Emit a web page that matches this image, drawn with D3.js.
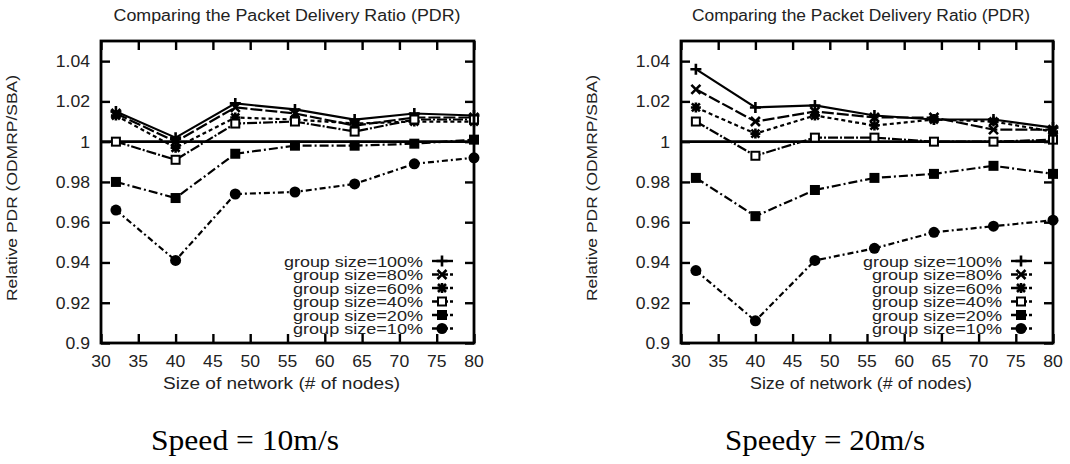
<!DOCTYPE html>
<html>
<head>
<meta charset="utf-8">
<script src="https://cdn.jsdelivr.net/npm/d3@7"></script>
<style>
  html, body { margin: 0; padding: 0; background: #fff; }
  svg { display: block; }
  text.chart { font-family: "Liberation Sans", Arial, sans-serif; fill: #222; }
  text.caption { font-family: "Liberation Serif", "Times New Roman", serif; fill: #000; }
</style>
</head>
<body>
<svg id="chart" width="1070" height="464"></svg>
<script>
// Network sizes (number of nodes) at which each run was measured
const nodeCounts = [32, 40, 48, 56, 64, 72, 80];

// Legend labels, one per multicast group size
const groupLabels = ["group size=100%", "group size=80%", "group size=60%",
                     "group size=40%", "group size=20%", "group size=10%"];

// Relative PDR (ODMRP/SBA), node speed 10 m/s
const speed10_g100 = [1.015, 1.002, 1.019, 1.016, 1.011, 1.014, 1.013];
const speed10_g80  = [1.014, 1.000, 1.017, 1.014, 1.008, 1.012, 1.012];
const speed10_g60  = [1.013, 0.997, 1.012, 1.011, 1.009, 1.010, 1.010];
const speed10_g40  = [1.000, 0.991, 1.009, 1.010, 1.005, 1.011, 1.011];
const speed10_g20  = [0.980, 0.972, 0.994, 0.998, 0.998, 0.999, 1.001];
const speed10_g10  = [0.966, 0.941, 0.974, 0.975, 0.979, 0.989, 0.992];

// Relative PDR (ODMRP/SBA), node speed 20 m/s
const speed20_g100 = [1.036, 1.017, 1.018, 1.013, 1.011, 1.011, 1.007];
const speed20_g80  = [1.026, 1.010, 1.015, 1.012, 1.012, 1.006, 1.006];
const speed20_g60  = [1.017, 1.004, 1.013, 1.008, 1.011, 1.010, 1.005];
const speed20_g40  = [1.010, 0.993, 1.002, 1.002, 1.000, 1.000, 1.001];
const speed20_g20  = [0.982, 0.963, 0.976, 0.982, 0.984, 0.988, 0.984];
const speed20_g10  = [0.936, 0.911, 0.941, 0.947, 0.955, 0.958, 0.961];

// Axis ticks
const xTicks = [30, 35, 40, 45, 50, 55, 60, 65, 70, 75, 80];
const yTicks = [0.9, 0.92, 0.94, 0.96, 0.98, 1, 1.02, 1.04];
const yTickLabels = ["0.9", "0.92", "0.94", "0.96", "0.98", "1", "1.02", "1.04"];

const chartTitle = "Comparing the Packet Delivery Ratio (PDR)";
const xAxisTitle = "Size of network (# of nodes)";
const yAxisTitle = "Relative PDR (ODMRP/SBA)";

// Line dash per series (monochrome style) and point symbol per series
const dashes = [null, "12,3", "4,3", "10,2,2,2", "9,3,2,3", "6,3,2,3"];
const symbols = ["plus", "cross", "star", "openSquare", "square", "circle"];

const svg = d3.select("#chart");

function drawSymbol(g, type, cx, cy) {
  const s = g.append("g").attr("transform", `translate(${cx},${cy})`);
  const p = (d) => s.append("path").attr("d", d)
    .attr("stroke", "#000").attr("stroke-width", 2.6).attr("fill", "none");
  if (type === "plus") p("M-5.5,0H5.5M0,-5.5V5.5");
  else if (type === "cross") p("M-4.5,-4.5L4.5,4.5M-4.5,4.5L4.5,-4.5");
  else if (type === "star") p("M-5,0H5M0,-5V5M-4,-4L4,4M-4,4L4,-4");
  else if (type === "openSquare") s.append("rect").attr("x", -4).attr("y", -4).attr("width", 8).attr("height", 8)
      .attr("fill", "#fff").attr("stroke", "#000").attr("stroke-width", 2);
  else if (type === "square") s.append("rect").attr("x", -5).attr("y", -5).attr("width", 10).attr("height", 10).attr("fill", "#000");
  else if (type === "circle") s.append("circle").attr("r", 5.5).attr("fill", "#000");
}

function stretchedText(g, str, x, y, size, sx, anchor) {
  return g.append("text").attr("class", "chart")
    .attr("transform", `translate(${x},${y}) scale(${sx},1)`)
    .attr("text-anchor", anchor)
    .attr("font-size", size)
    .text(str);
}

function drawPanel(cfg) {
  const top = 41, bottom = 343;
  const x = d3.scaleLinear().domain([30, 80]).range([cfg.left, cfg.right]);
  const y = d3.scaleLinear().domain([0.9, 1.05]).range([bottom, top]);
  const g = svg.append("g");

  // Title
  g.append("text").attr("class", "chart")
    .attr("x", cfg.titleX).attr("y", 21)
    .attr("text-anchor", "middle").attr("font-size", 16)
    .attr("textLength", cfg.titleLen).attr("lengthAdjust", "spacingAndGlyphs")
    .text(chartTitle);

  // Inward-pointing ticks on all four sides
  const tickStyle = (sel) => {
    sel.select(".domain").remove();
    sel.selectAll("text").remove();
    sel.selectAll("line").attr("stroke", "#000").attr("stroke-width", 2.4);
  };
  g.append("g").attr("transform", `translate(${cfg.left},0)`)
    .call(d3.axisLeft(y).tickValues(yTicks).tickSize(-9)).call(tickStyle);
  g.append("g").attr("transform", `translate(${cfg.right},0)`)
    .call(d3.axisRight(y).tickValues(yTicks).tickSize(-9)).call(tickStyle);
  g.append("g").attr("transform", `translate(0,${bottom})`)
    .call(d3.axisBottom(x).tickValues(xTicks).tickSize(-9)).call(tickStyle);
  g.append("g").attr("transform", `translate(0,${top})`)
    .call(d3.axisTop(x).tickValues(xTicks).tickSize(-9)).call(tickStyle);

  // Tick labels
  yTicks.forEach((v, i) => stretchedText(g, yTickLabels[i], cfg.left - 11, y(v) + 6, 16, 1.1, "end"));
  xTicks.forEach((v) => stretchedText(g, String(v), x(v), 367, 16, 1.1, "middle"));

  // Axis titles
  g.append("text").attr("class", "chart")
    .attr("x", (cfg.left + cfg.right) / 2 - 6).attr("y", 389)
    .attr("text-anchor", "middle").attr("font-size", 16)
    .attr("textLength", cfg.xLabelLen).attr("lengthAdjust", "spacingAndGlyphs")
    .text(xAxisTitle);
  g.append("text").attr("class", "chart")
    .attr("transform", `translate(${cfg.yLabelX},188) rotate(-90)`)
    .attr("text-anchor", "middle").attr("font-size", 15)
    .attr("textLength", 226).attr("lengthAdjust", "spacingAndGlyphs")
    .text(yAxisTitle);

  // Reference line at ratio 1
  g.append("line")
    .attr("x1", cfg.left).attr("x2", cfg.right)
    .attr("y1", y(1)).attr("y2", y(1))
    .attr("stroke", "#000").attr("stroke-width", 2.8);

  // Series
  const line = d3.line().x((d, i) => x(nodeCounts[i])).y((d) => y(d));
  cfg.series.forEach((vals, k) => {
    g.append("path").datum(vals)
      .attr("d", line).attr("fill", "none")
      .attr("stroke", "#000").attr("stroke-width", 2.2)
      .attr("stroke-dasharray", dashes[k]);
    vals.forEach((v, i) => drawSymbol(g, symbols[k], x(nodeCounts[i]), y(v)));
  });

  // Legend (bottom right, inside the plot)
  groupLabels.forEach((lab, k) => {
    const ly = 328.5 - (groupLabels.length - 1 - k) * 13.5;
    g.append("text").attr("class", "chart")
      .attr("x", cfg.right - 51).attr("y", ly + 5.5)
      .attr("text-anchor", "end").attr("font-size", 15.5)
      .attr("textLength", k === 0 ? 139 : 130).attr("lengthAdjust", "spacingAndGlyphs")
      .text(lab);
    g.append("line")
      .attr("x1", cfg.right - 42).attr("x2", cfg.right - 21)
      .attr("y1", ly).attr("y2", ly)
      .attr("stroke", "#000").attr("stroke-width", 2.4)
      .attr("stroke-dasharray", dashes[k] ? "7,2" : null);
    drawSymbol(g, symbols[k], cfg.right - 32, ly);
  });

  // Plot frame
  g.append("rect")
    .attr("x", cfg.left).attr("y", top)
    .attr("width", cfg.right - cfg.left).attr("height", bottom - top)
    .attr("fill", "none").attr("stroke", "#000").attr("stroke-width", 2.8);

  // Caption below the panel
  svg.append("text").attr("class", "caption")
    .attr("x", cfg.captionX).attr("y", 450)
    .attr("font-size", 29)
    .attr("textLength", cfg.captionLen).attr("lengthAdjust", "spacingAndGlyphs")
    .text(cfg.caption);
}

drawPanel({
  left: 101, right: 474, titleX: 287, titleLen: 347, xLabelLen: 237, yLabelX: 17,
  series: [speed10_g100, speed10_g80, speed10_g60, speed10_g40, speed10_g20, speed10_g10],
  caption: "Speed = 10m/s", captionX: 151, captionLen: 188
});
drawPanel({
  left: 681, right: 1053, titleX: 861, titleLen: 338, xLabelLen: 222, yLabelX: 597,
  series: [speed20_g100, speed20_g80, speed20_g60, speed20_g40, speed20_g20, speed20_g10],
  caption: "Speedy = 20m/s", captionX: 725, captionLen: 200
});
</script>
</body>
</html>
